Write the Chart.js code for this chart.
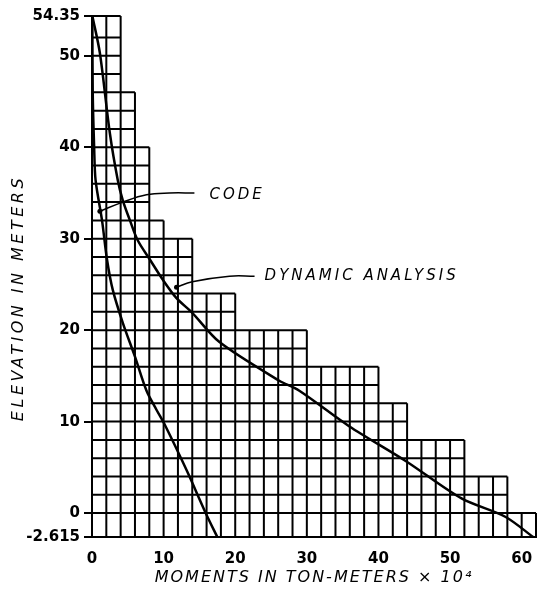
<!DOCTYPE html>
<html>
<head>
<meta charset="utf-8">
<script src="https://cdn.jsdelivr.net/npm/chart.js@4.4.1/dist/chart.umd.min.js"></script>
<style>
  html, body { margin: 0; padding: 0; background: #fff; }
  #wrap { width: 540px; height: 604px; }
</style>
</head>
<body>
<div id="wrap"><canvas id="chart"></canvas></div>
<script>
// staircase of squares: top elevation of each band and its width (ton-meters x10^4)
const bandTop   = [54.35, 46, 40, 32, 30, 24, 20, 16, 12, 8, 4, 0];
const bandWidth = [4, 6, 8, 10, 14, 20, 30, 40, 44, 52, 58, 62];
const baseElev  = -2.615;
const cellStep  = 2;

// curves: [moment, elevation]
const codeX = [0.05, 0.1, 0.3, 0.5, 1.4, 2.1, 2.9, 4.3, 6.0, 7.6, 9.0, 10.2, 13.2, 16.0, 17.5];
const codeY = [54.35, 46, 40, 36.4, 32.0, 27.7, 24.4, 20.8, 17.1, 13.4, 11.3, 9.6, 4.7, -0.2, -2.615];

const dynX = [0.05, 1.1, 2.5, 3.6, 4.3, 5.3, 6.4, 8.1, 9.9, 11.8, 14.0, 17.8, 26.1, 28.9, 35.9, 43.8, 51.6, 57.7, 61.6];
const dynY = [54.35, 50.3, 41.5, 36.4, 34.2, 32.0, 29.8, 27.7, 25.5, 23.5, 21.9, 18.7, 14.5, 13.4, 9.5, 5.7, 1.6, -0.4, -2.615];

// leader lines to the labels
const codeLeadX = [1.1, 4.3, 7.6, 10.8, 14.3];
const codeLeadY = [33.0, 34.0, 34.8, 35.0, 35.0];
const dynLeadX = [11.8, 14.0, 19.2, 22.7];
const dynLeadY = [24.7, 25.3, 25.9, 25.9];

// axis ticks
const yTicks = [-2.615, 0, 10, 20, 30, 40, 50, 54.35];
const yTickLabels = ['-2.615', '0', '10', '20', '30', '40', '50', '54.35'];
const xTicks = [0, 10, 20, 30, 40, 50, 60];

const pts = (xs, ys) => xs.map((x, i) => ({ x: x, y: ys[i] }));

// width of the staircase just under elevation y
function widthAt(y) {
  for (let i = 0; i < bandTop.length; i++) {
    const lo = i + 1 < bandTop.length ? bandTop[i + 1] : baseElev;
    if (y <= bandTop[i] && y > lo) return bandWidth[i];
  }
  return bandWidth[bandWidth.length - 1];
}
// top of the staircase at moment x
function heightAt(x) {
  let h = baseElev;
  bandTop.forEach((t, i) => { if (bandWidth[i] >= x && t > h) h = t; });
  return h;
}

const gridPts = [];
const rows = [bandTop[0]];
for (let y = 52; y >= 0; y -= cellStep) rows.push(y);
rows.push(baseElev);
rows.forEach(y => {
  gridPts.push({ x: 0, y: y }, { x: widthAt(y), y: y }, { x: null, y: null });
});
for (let x = 0; x <= bandWidth[bandWidth.length - 1]; x += cellStep) {
  gridPts.push({ x: x, y: baseElev }, { x: x, y: heightAt(x) }, { x: null, y: null });
}

// hand-lettered texts: curve labels and axis titles
const textPlugin = {
  id: 'texts',
  afterDatasetsDraw(chart) {
    const { ctx, scales, chartArea } = chart;
    ctx.save();
    ctx.fillStyle = '#000';
    ctx.textBaseline = 'middle';
    ctx.font = 'italic 15px "DejaVu Sans"';
    ctx.letterSpacing = '3px';
    ctx.fillText('CODE', scales.x.getPixelForValue(16.4), scales.y.getPixelForValue(34.8));
    ctx.fillText('DYNAMIC ANALYSIS', scales.x.getPixelForValue(24.1), scales.y.getPixelForValue(25.9));

    ctx.font = 'italic 16px "DejaVu Sans"';
    ctx.letterSpacing = '2px';
    ctx.textAlign = 'center';
    ctx.fillText('MOMENTS IN TON-METERS \u00d7 10\u2074', (chartArea.left + chartArea.right) / 2, 578);

    ctx.letterSpacing = '3.5px';
    ctx.translate(19, 298);
    ctx.rotate(-Math.PI / 2);
    ctx.fillText('ELEVATION IN METERS', 0, 0);
    ctx.restore();
  }
};

const ctx = document.getElementById('chart').getContext('2d');
new Chart(ctx, {
  type: 'line',
  data: {
    datasets: [
      { data: gridPts, borderColor: '#000', borderWidth: 2, pointRadius: 0, spanGaps: false, clip: 6 },
      { data: pts(codeX, codeY), borderColor: '#000', borderWidth: 2.5, pointRadius: 0, tension: 0.3, clip: 6 },
      { data: pts(dynX, dynY), borderColor: '#000', borderWidth: 2.5, pointRadius: 0, tension: 0.3, clip: 6 },
      { data: pts(codeLeadX, codeLeadY), borderColor: '#000', borderWidth: 1.5, tension: 0.4,
        pointRadius: [2.5, 0, 0, 0, 0], pointBackgroundColor: '#000', pointBorderWidth: 0, clip: 6 },
      { data: pts(dynLeadX, dynLeadY), borderColor: '#000', borderWidth: 1.5, tension: 0.4,
        pointRadius: [2.5, 0, 0, 0], pointBackgroundColor: '#000', pointBorderWidth: 0, clip: 6 }
    ]
  },
  options: {
    responsive: true,
    maintainAspectRatio: false,
    animation: false,
    layout: { padding: { top: 16, right: 1, left: 0, bottom: 0 } },
    plugins: { legend: { display: false }, tooltip: { enabled: false } },
    scales: {
      x: {
        type: 'linear', min: 0, max: 62,
        afterBuildTicks: s => { s.ticks = xTicks.map(v => ({ value: v })); },
        afterFit: s => { s.height = 67; s.paddingLeft = 0; s.paddingRight = 0; },
        grid: { drawOnChartArea: false, drawTicks: false },
        border: { display: true, color: '#000', width: 2 },
        ticks: { color: '#000', padding: 13, font: { family: 'DejaVu Sans', size: 15, weight: 'bold' } }
      },
      y: {
        type: 'linear', min: baseElev, max: 54.35,
        afterBuildTicks: s => { s.ticks = yTicks.map(v => ({ value: v })); },
        afterFit: s => { s.width = 92; },
        grid: { drawOnChartArea: false, drawTicks: true, tickLength: 8, color: '#000', lineWidth: 2 },
        border: { display: true, color: '#000', width: 2 },
        ticks: {
          color: '#000', padding: 4, autoSkip: false,
          font: { family: 'DejaVu Sans', size: 15, weight: 'bold' },
          callback: (v, i) => yTickLabels[i]
        }
      }
    }
  },
  plugins: [textPlugin]
});
</script>
</body>
</html>
